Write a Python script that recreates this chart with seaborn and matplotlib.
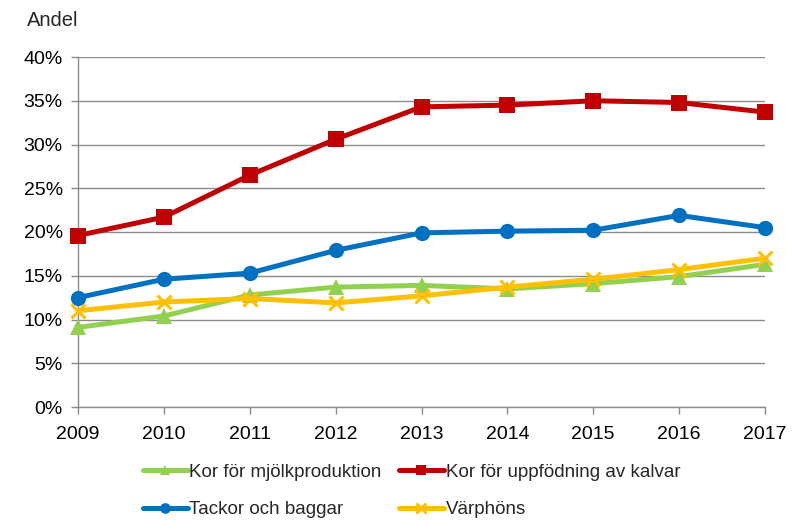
import numpy as np
import pandas as pd
import matplotlib
matplotlib.use("Agg")
import matplotlib.pyplot as plt
import seaborn as sns
from matplotlib.ticker import PercentFormatter

years = [2009, 2010, 2011, 2012, 2013, 2014, 2015, 2016, 2017]
mjolk = [9.1, 10.4, 12.8, 13.7, 13.9, 13.5, 14.1, 14.9, 16.3]
kalvar = [19.6, 21.7, 26.5, 30.6, 34.3, 34.5, 35.0, 34.8, 33.7]
tackor = [12.5, 14.6, 15.3, 17.9, 19.9, 20.1, 20.2, 21.9, 20.5]
varphons = [11.0, 12.0, 12.4, 11.9, 12.7, 13.7, 14.6, 15.7, 17.0]

series = {
    "Kor för mjölkproduktion": (mjolk, "#92D050", "^", 11),
    "Tackor och baggar": (tackor, "#0070C0", "o", 11),
    "Kor för uppfödning av kalvar": (kalvar, "#C00000", "s", 11),
    "Värphöns": (varphons, "#FFC000", "x", 10),
}

sns.set_style("white")
plt.rcParams["font.family"] = ["Liberation Sans", "DejaVu Sans"]

fig = plt.figure(figsize=(7.94, 5.21), dpi=100)
ax = fig.add_axes([78 / 794, 1 - 407 / 521, (765 - 78) / 794, (407 - 57) / 521])

for name, (vals, col, mk, ms) in series.items():
    df = pd.DataFrame({"year": years, "val": vals})
    sns.lineplot(data=df, x="year", y="val", ax=ax, color=col, linewidth=3.6,
                 marker=mk, markersize=ms, markeredgecolor=col,
                 markeredgewidth=2.2 if mk == "x" else 0, label=name, zorder=3,
                 clip_on=False)

ax.set_xlim(2009, 2017)
ax.set_ylim(0, 40)
ax.set_xticks(years)
ax.set_yticks(np.arange(0, 41, 5))
ax.yaxis.set_major_formatter(PercentFormatter(decimals=0))
ax.grid(axis="y", color="#8C8C8C", linewidth=1)
ax.set_xlabel("")
ax.set_ylabel("")
for s in ["top", "right"]:
    ax.spines[s].set_visible(False)
for s in ["left", "bottom"]:
    ax.spines[s].set_color("#8C8C8C")
    ax.spines[s].set_linewidth(1)
ax.tick_params(axis="both", labelsize=14, colors="#8C8C8C", labelcolor="black",
               length=5, width=1, direction="out", left=True, bottom=True)
ax.tick_params(axis="y", pad=6)
ax.tick_params(axis="x", pad=9)

fig.text(27 / 794, 1 - 20 / 521, "Andel", fontsize=14.5, va="center", ha="left")

ax.legend(loc="upper left", bbox_to_anchor=(135 / 794, 1 - 456 / 521),
          bbox_transform=fig.transFigure, ncol=2, frameon=False, fontsize=13.5,
          handlelength=2.4, handletextpad=0.1, columnspacing=0.9,
          labelspacing=1.1, borderaxespad=0, markerscale=0.7)

fig.savefig("out.png", dpi=100)
